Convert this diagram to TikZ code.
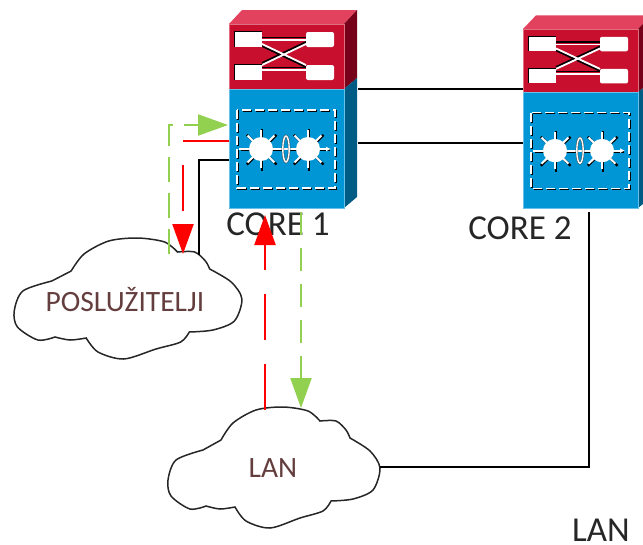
\documentclass[tikz,border=0pt]{standalone}
\usepackage{fontspec}
\usepackage{xcolor}
\setmainfont{Carlito}
\usetikzlibrary{arrows.meta}
\definecolor{frontred}{RGB}{200,16,46}
\definecolor{topred}{RGB}{226,66,94}
\definecolor{sidered}{RGB}{118,0,26}
\definecolor{frontblue}{RGB}{0,150,214}
\definecolor{sideblue}{RGB}{0,92,132}
\definecolor{linegreen}{RGB}{146,208,80}
\definecolor{cloudbrown}{RGB}{100,62,62}
\newcommand{\starglyph}[2]{
	\foreach \ang in {0,45,...,315} {
		\draw[black,line width=2.4pt] (#1+0.7,#2+0.7) -- +(\ang:21);
		\draw[white,line width=2pt] (#1,#2) -- +(\ang:19);
	}
	\fill[white] (#1,#2) circle (12);
}
\tikzset{
	coreswitch/.pic={
		\fill[topred] (0,0) -- (13,-14) -- (128,-14) -- (115,0) -- cycle;
		\fill[sidered] (115,0) -- (128,-14) -- (128,54) -- (115,65) -- cycle;
		\fill[sideblue] (115,65) -- (128,54) -- (128,173) -- (115,184) -- cycle;
		\draw[frontred!60!white,fill=frontred,line width=0.8pt] (0,0) rectangle (115,65);
		\draw[frontblue!60!white,fill=frontblue,line width=0.8pt] (0,65) rectangle (115,184);
		\foreach \yy in {16,46} {
			\draw[black,line width=1.6pt] (33,\yy-2.5) -- (77,\yy-2.5);
			\draw[white,line width=1.8pt] (33,\yy) -- (77,\yy);
		}
		\draw[black,line width=1.8pt] (33,22) -- (77,43) (33,39) -- (77,18);
		\draw[white,line width=1.8pt] (33,20) -- (77,41) (33,41) -- (77,20);
		\foreach \yy in {8,41} {
			\fill[black] (5,\yy-1) rectangle (33,\yy+15);
			\fill[white] (6,\yy) rectangle (33,\yy+15);
			\fill[white,rounded corners=2pt] (77,\yy) rectangle (105,\yy+15);
		}
		\draw[black,line width=1.4pt,dash pattern=on 9pt off 4pt] (9,87) rectangle (107,165);
		\draw[white,line width=1.4pt,dash pattern=on 9pt off 4pt] (8,86) rectangle (106,164);
		\starglyph{32}{125}
		\starglyph{79}{125}
		\draw[white,line width=2pt,-{Latex[length=5pt,width=5pt]}] (10,125) -- (102,125);
		\draw[black!70,line width=2.4pt] (57,125) ellipse (3.2 and 13);
		\draw[white,line width=1.4pt] (57,125) ellipse (3.2 and 13);
	},
	cloudshape/.pic={
		\draw[cloudline] plot[smooth] coordinates {(-52,-28) (-40,-45) (-17,-58) (10,-61) (35,-57) (47,-47)}
			-- plot[smooth] coordinates {(47,-47) (63,-47) (73,-38) (77,-30)}
			-- plot[smooth] coordinates {(77,-30) (97,-17) (107,0) (100,22) (80,31) (58,33)}
			-- plot[smooth] coordinates {(58,33) (50,43) (27,50) (-3,60) (-27,53) (-38,39)}
			-- plot[smooth] coordinates {(-38,39) (-53,41) (-67,38)}
			-- plot[smooth] coordinates {(-67,38) (-83,41) (-102,28) (-105,12) (-97,-8) (-70,-18)}
			-- (-52,-28);
	},
	cloudline/.style={draw=black!85,line width=1.5pt},
	linkline/.style={black,line width=2.6pt},
	corelabel/.style={text=black!85,font=\fontsize{35}{39}\selectfont,inner sep=0pt},
	cloudlabel/.style={text=cloudbrown,font=\fontsize{29.5}{33}\selectfont,inner sep=0pt},
	redflow/.style={red,line width=2.4pt,dash pattern=on 46pt off 24pt,-{Triangle[length=30pt,width=21pt]}},
	greenflow/.style={linegreen,line width=2.2pt,dash pattern=on 23pt off 13pt,-{Triangle[length=30pt,width=21pt]}}
}
\begin{document}
\begin{tikzpicture}[x=1pt,y=-1pt]
	\clip (0,0) rectangle (643,544);
	\pic at (229,24) {coreswitch};
	\pic[yscale=0.973] at (523,29) {coreswitch};
	\pic at (273,468) {cloudshape};
	\pic[xscale=1.074] at (127,299) {cloudshape};
	\node[corelabel] (core1) at (278,224) {CORE 1};
	\node[corelabel] (core2) at (520,228) {CORE 2};
	\node[corelabel] (lanlabel) at (601,530) {LAN};
	\node[cloudlabel] (server) at (125,300) {POSLUŽITELJI};
	\node[cloudlabel] (lan) at (273,468) {LAN};
	\coordinate (core1a) at (358,89);
	\coordinate (core1b) at (358,143);
	\coordinate (core2a) at (523,89);
	\coordinate (core2b) at (523,143);
	\coordinate (core1c) at (229,160);
	\coordinate (serverin) at (199,255);
	\coordinate (core2d) at (589,212);
	\coordinate (lanright) at (380,467);
	\coordinate (core1red) at (229,141);
	\coordinate (serverred) at (183,254);
	\coordinate (lanred) at (265,410);
	\coordinate (core1redin) at (265,215);
	\coordinate (servergreen) at (169,254);
	\coordinate (core1green) at (228,125);
	\coordinate (core1out) at (301,212);
	\coordinate (langreen) at (301,408);
	\draw[linkline] (core1a) -- (core2a);
	\draw[linkline] (core1b) -- (core2b);
	\draw[linkline] (core1c) -| (serverin);
	\draw[linkline] (core2d) |- (lanright);
	\draw[redflow] (core1red) -| (serverred);
	\draw[redflow] (lanred) -- (core1redin);
	\draw[greenflow,dash pattern=on 25pt off 11pt] (servergreen) |- (core1green);
	\draw[greenflow] (core1out) -- (langreen);
\end{tikzpicture}
\end{document}
